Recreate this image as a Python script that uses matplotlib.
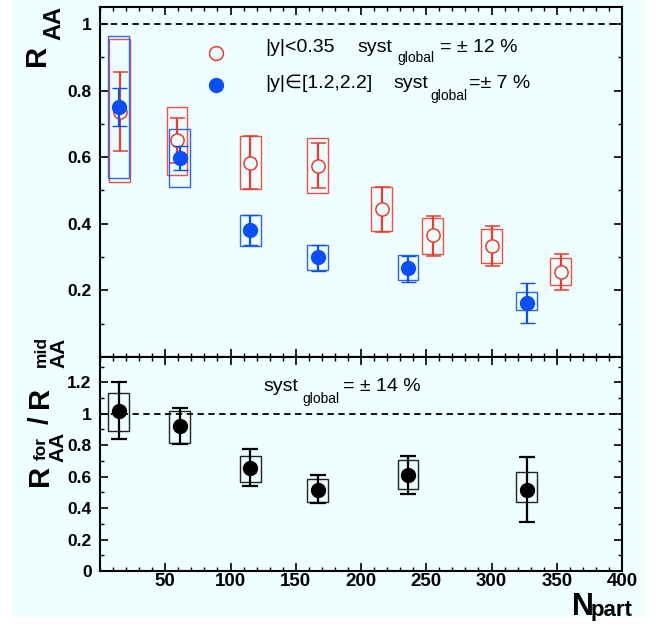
import matplotlib
matplotlib.use('Agg')
import matplotlib.pyplot as plt
from matplotlib.patches import Rectangle
from matplotlib.lines import Line2D
from matplotlib.ticker import FixedLocator, MultipleLocator, FixedFormatter
import numpy as np

# ---------------- data ----------------
npart_mid = [15, 59, 115, 167, 216, 255, 300, 353]
raa_mid = [0.737, 0.652, 0.584, 0.575, 0.444, 0.365, 0.333, 0.256]
mid_stat_hi = [0.857, 0.719, 0.663, 0.642, 0.510, 0.424, 0.393, 0.309]
mid_stat_lo = [0.620, 0.582, 0.505, 0.507, 0.376, 0.302, 0.273, 0.202]
mid_syst_hi = [0.954, 0.752, 0.663, 0.657, 0.509, 0.418, 0.384, 0.297]
mid_syst_lo = [0.526, 0.546, 0.505, 0.493, 0.379, 0.309, 0.282, 0.215]

npart_fwd = [14.5, 61, 115, 167, 236, 327]
raa_fwd = [0.752, 0.597, 0.382, 0.299, 0.266, 0.163]
fwd_stat_hi = [0.809, 0.635, 0.426, 0.337, 0.304, 0.223]
fwd_stat_lo = [0.694, 0.561, 0.337, 0.257, 0.224, 0.101]
fwd_syst_hi = [0.965, 0.686, 0.427, 0.336, 0.306, 0.195]
fwd_syst_lo = [0.537, 0.510, 0.334, 0.261, 0.232, 0.141]

ratio = [1.017, 0.922, 0.656, 0.518, 0.611, 0.516]
ratio_stat_hi = [1.200, 1.034, 0.775, 0.611, 0.731, 0.724]
ratio_stat_lo = [0.839, 0.809, 0.540, 0.431, 0.491, 0.312]
ratio_syst_hi = [1.130, 1.019, 0.729, 0.582, 0.703, 0.627]
ratio_syst_lo = [0.890, 0.813, 0.569, 0.436, 0.520, 0.436]

x_ticks = [50, 100, 150, 200, 250, 300, 350, 400]
x_ticklabels = ['50', '100', '150', '200', '250', '300', '350', '400']
top_yticks = [0.2, 0.4, 0.6, 0.8, 1.0]
top_yticklabels = ['0.2', '0.4', '0.6', '0.8', '1']
bot_yticks = [0.0, 0.2, 0.4, 0.6, 0.8, 1.0, 1.2]
bot_yticklabels = ['0', '0.2', '0.4', '0.6', '0.8', '1', '1.2']

# ---------------- style ----------------
W, H, DPI = 667, 629, 100
plt.rcParams['font.family'] = ['Liberation Sans', 'DejaVu Sans']
BG = '#effefe'
RED = '#ee3a2a'
BLUE = '#0a4ff5'
RED_BOX = '#f05040'
BLUE_BOX = '#2a66f0'
HALF_W = 8.0

def fx(x):
    return x / W

def fy(y):
    return 1 - y / H

fig = plt.figure(figsize=(W / DPI, H / DPI), dpi=DPI, facecolor='white')
fig.patches.append(Rectangle((fx(12), fy(617)), (645 - 12) / W, 617 / H,
                             transform=fig.transFigure, facecolor=BG,
                             edgecolor='none', zorder=-10))

ax1 = fig.add_axes([fx(100), fy(357), (622 - 100) / W, (357 - 7) / H])
ax2 = fig.add_axes([fx(100), fy(571), (622 - 100) / W, (571 - 357) / H])

for ax in (ax1, ax2):
    ax.set_facecolor(BG)
    ax.set_xlim(0, 400)
    for s in ax.spines.values():
        s.set_linewidth(1.5)
    ax.xaxis.set_major_locator(FixedLocator(x_ticks))
    ax.xaxis.set_minor_locator(MultipleLocator(10))
    ax.yaxis.set_minor_locator(MultipleLocator(0.1))
    ax.tick_params(which='both', direction='in', top=True, right=True,
                   bottom=True, left=True)
    ax.tick_params(which='major', length=5.5, width=1.2)
    ax.tick_params(which='minor', length=3, width=1.0)
    ax.tick_params(axis='y', which='major', pad=6)


def boxes(ax, x, lo, hi, color, lw):
    for xi, l, h in zip(x, lo, hi):
        ax.add_patch(Rectangle((xi - HALF_W, l), 2 * HALF_W, h - l, fill=False,
                               edgecolor=color, linewidth=lw, zorder=2))


def errs(val, lo, hi):
    v = np.array(val)
    return [v - np.array(lo), np.array(hi) - v]

# ---------------- top panel ----------------
ax1.set_ylim(0, 1.051)
ax1.axhline(1.0, color='black', lw=1.3, ls=(0, (3.5, 2.5)), zorder=1)

boxes(ax1, npart_mid, mid_syst_lo, mid_syst_hi, RED_BOX, 1.0)
ax1.errorbar(npart_mid, raa_mid, yerr=errs(raa_mid, mid_stat_lo, mid_stat_hi),
             fmt='o', color=RED, mfc=BG, mec=RED, ms=9.5, mew=1.1,
             elinewidth=1.6, capsize=5.4, capthick=1.6, zorder=3)
boxes(ax1, npart_fwd, fwd_syst_lo, fwd_syst_hi, BLUE_BOX, 1.0)
ax1.errorbar(npart_fwd, raa_fwd, yerr=errs(raa_fwd, fwd_stat_lo, fwd_stat_hi),
             fmt='o', color=BLUE, mfc=BLUE, mec=BLUE, ms=10, mew=1.0,
             elinewidth=1.6, capsize=5.4, capthick=1.6, zorder=4)

ax1.yaxis.set_major_locator(FixedLocator(top_yticks))
ax1.yaxis.set_major_formatter(FixedFormatter(top_yticklabels))
ax1.tick_params(axis='x', labelbottom=False)
for lab in ax1.get_yticklabels():
    lab.set_fontweight('bold')
    lab.set_fontsize(12.5)

# legend markers
handles = [Line2D([], [], marker='o', ls='none', mfc=BG, mec=RED, ms=10, mew=1.1),
           Line2D([], [], marker='o', ls='none', mfc=BLUE, mec=BLUE, ms=10)]
ax1.legend(handles, [' ', ' '], loc='upper left',
           bbox_to_anchor=(fx(206), fy(46)), bbox_transform=fig.transFigure,
           frameon=False, fontsize=14, handlelength=1.0, handletextpad=0.5,
           borderpad=0, borderaxespad=0, labelspacing=0.74)

# legend texts
fig.text(fx(265), fy(52), '|y|<0.35', fontsize=14, va='baseline', ha='left')
fig.text(fx(357), fy(52), 'syst', fontsize=14, va='baseline', ha='left')
fig.text(fx(397), fy(62), 'global', fontsize=10, va='baseline', ha='left')
fig.text(fx(440), fy(52), '= ± 12 %', fontsize=14, va='baseline', ha='left')
fig.text(fx(265), fy(88), '|y|∈[1.2,2.2]', fontsize=14, va='baseline', ha='left')
fig.text(fx(393), fy(88), 'syst', fontsize=14, va='baseline', ha='left')
fig.text(fx(430), fy(100), 'global', fontsize=10, va='baseline', ha='left')
fig.text(fx(469), fy(88), '=± 7 %', fontsize=14, va='baseline', ha='left')

# ---------------- bottom panel ----------------
ax2.set_ylim(0, 1.361)
ax2.axhline(1.0, color='black', lw=1.3, ls=(0, (3.5, 2.5)), zorder=1)
boxes(ax2, npart_fwd, ratio_syst_lo, ratio_syst_hi, '#222222', 1.0)
ax2.errorbar(npart_fwd, ratio, yerr=errs(ratio, ratio_stat_lo, ratio_stat_hi),
             fmt='o', color='black', mfc='black', mec='black', ms=10,
             elinewidth=1.6, capsize=5.6, capthick=1.6, zorder=3)
ax2.yaxis.set_major_locator(FixedLocator(bot_yticks))
ax2.yaxis.set_major_formatter(FixedFormatter(bot_yticklabels))
ax2.xaxis.set_major_formatter(FixedFormatter(x_ticklabels))
ax2.tick_params(axis='x', which='major', pad=1.5)
for lab in ax2.get_yticklabels():
    lab.set_fontweight('bold')
    lab.set_fontsize(12.5)
for lab in ax2.get_xticklabels():
    lab.set_fontweight('bold')
    lab.set_fontsize(13.5)

fig.text(fx(263), fy(391), 'syst', fontsize=14, va='baseline', ha='left')
fig.text(fx(302), fy(403), 'global', fontsize=10, va='baseline', ha='left')
fig.text(fx(343), fy(391), '= ± 14 %', fontsize=14, va='baseline', ha='left')

# ---------------- axis titles ----------------
def rtext(x, y, s, size):
    fig.text(fx(x), fy(y), s, fontsize=size, fontweight='bold', rotation=90,
             rotation_mode='anchor', ha='center', va='baseline')

rtext(45, 55.5, 'R', 21)
rtext(60, 23.5, 'AA', 17)

rtext(48, 475.5, 'R', 21)
rtext(45.5, 449, 'for', 12.5)
rtext(63, 447, 'AA', 15)
rtext(48, 420, '/', 20)
rtext(48, 397.5, 'R', 21)
rtext(45.5, 351.5, 'mid', 12.5)
rtext(64, 352.5, 'AA', 15)

fig.text(fx(572), fy(615), 'N', fontsize=22, fontweight='bold', va='baseline', ha='left')
fig.text(fx(591), fy(616), 'part', fontsize=16, fontweight='bold', va='baseline', ha='left')

fig.savefig('out.png', dpi=DPI, facecolor='white')
